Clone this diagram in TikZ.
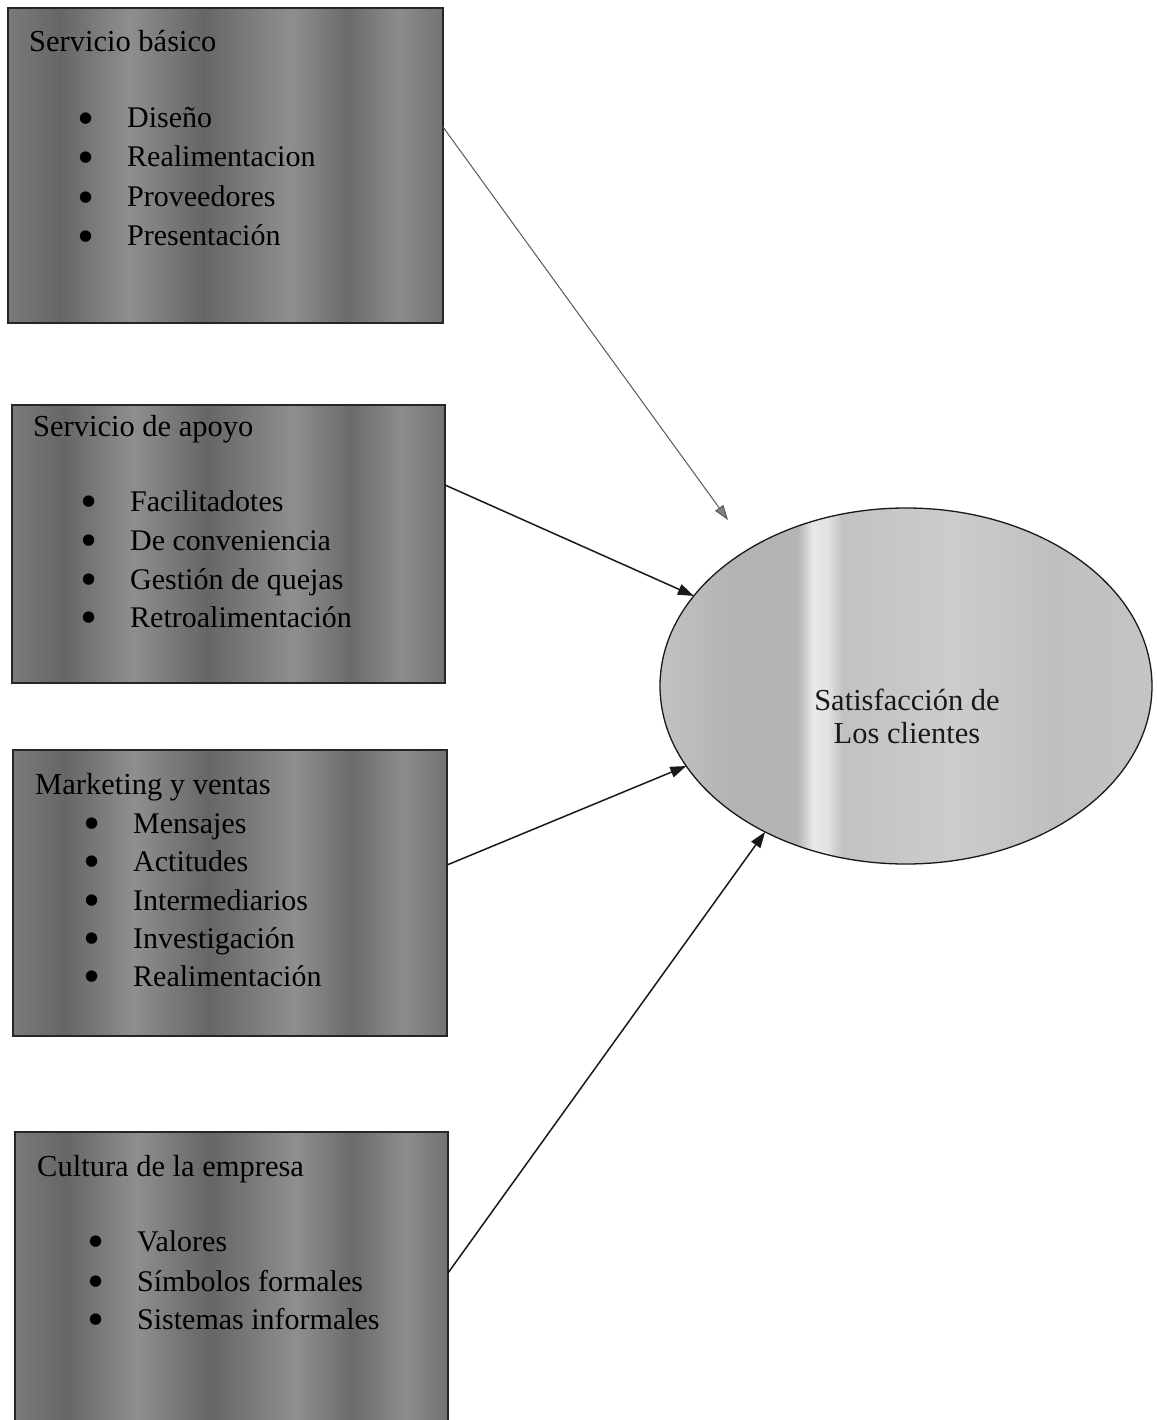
\documentclass[tikz,border=0pt]{standalone}
\usepackage{fontspec}
\setmainfont{Liberation Serif}
\newfontfamily\symfont{DejaVu Sans}
\usetikzlibrary{arrows.meta,shapes.geometric}
\pgfdeclarehorizontalshading{scanbands}{100bp}{color(0bp)=(black!52); color(25bp)=(black!52); color(31bp)=(black!60); color(39bp)=(black!44); color(47.5bp)=(black!60); color(57.5bp)=(black!44); color(64bp)=(black!58); color(70bp)=(black!45); color(75bp)=(black!55); color(100bp)=(black!55)}
\pgfdeclarehorizontalshading{ellbands}{100bp}{color(0bp)=(black!24); color(25bp)=(black!24); color(33bp)=(black!30); color(39bp)=(black!29); color(40.5bp)=(black!9); color(42bp)=(black!11); color(43.5bp)=(black!24); color(55bp)=(black!20); color(65bp)=(black!25); color(75bp)=(black!23); color(100bp)=(black!23)}
\tikzset{
  box/.style={rectangle, draw=black!85, line width=1.3pt, shading=scanbands, inner sep=0pt, outer sep=0pt, anchor=north west},
  ttl/.style={anchor=base west, inner sep=0pt, font=\fontsize{30.5}{34}\selectfont, text=black},
  itm/.style={anchor=base west, inner sep=0pt, font=\fontsize{30}{34}\selectfont, text=black},
  arr/.style={line width=1.5pt, draw=black!90, -{Triangle[length=16pt,width=11pt]}},
  farr/.style={line width=1pt, draw=black!65, -{Triangle[length=15pt,width=10pt,fill=black!50]}}
}
\newcommand{\bul}{\makebox[48pt][l]{\raisebox{5.5pt}{\symfont\fontsize{15}{15}\selectfont ●}}}
\begin{document}
\begin{tikzpicture}[x=1pt,y=-1pt]
\useasboundingbox (0,0) rectangle (1156,1420);
\fill[white] (0,0) rectangle (1156,1420);

% boxes
\node[box, minimum width=435pt, minimum height=315pt] (b1) at (8,8) {};
\node[box, minimum width=433pt, minimum height=278pt] (b2) at (12,405) {};
\node[box, minimum width=434pt, minimum height=286pt] (b3) at (13,750) {};
\node[box, minimum width=433pt, minimum height=300pt] (b4) at (15,1132) {};

% box 1
\node[ttl] (t1) at (29,52) {Servicio básico};
\node[itm] (i11) at (79,128) {\bul Diseño};
\node[itm] (i12) at (79,167) {\bul Realimentacion};
\node[itm] (i13) at (79,207) {\bul Proveedores};
\node[itm] (i14) at (79,246) {\bul Presentación};

% box 2
\node[ttl] (t2) at (33,436) {Servicio de apoyo};
\node[itm] (i21) at (82,511) {\bul Facilitadotes};
\node[itm] (i22) at (82,550) {\bul De conveniencia};
\node[itm] (i23) at (82,589) {\bul Gestión de quejas};
\node[itm] (i24) at (82,627) {\bul Retroalimentación};

% box 3
\node[ttl] (t3) at (35,794) {Marketing y ventas};
\node[itm] (i31) at (85,833) {\bul Mensajes};
\node[itm] (i32) at (85,871) {\bul Actitudes};
\node[itm] (i33) at (85,910) {\bul Intermediarios};
\node[itm] (i34) at (85,948) {\bul Investigación};
\node[itm] (i35) at (85,986) {\bul Realimentación};

% box 4
\node[ttl] (t4) at (37,1176) {Cultura de la empresa};
\node[itm] (i41) at (89,1251) {\bul Valores};
\node[itm] (i42) at (89,1291) {\bul Símbolos formales};
\node[itm] (i43) at (89,1329) {\bul Sistemas informales};

% ellipse
\node[ellipse, draw=black!90, line width=1.3pt, shading=ellbands, minimum width=492pt, minimum height=356pt, inner sep=0pt, outer sep=0pt] (sat) at (906,686) {};
\node[align=center, inner sep=0pt, font=\fontsize{30.5}{33}\selectfont, text=black!90] (satl) at (907,716) {Satisfacción de\\Los clientes};

% connectors
\coordinate (a1) at (443,127);
\coordinate (a2) at (445,485);
\coordinate (a3) at (447,865);
\coordinate (a4) at (448,1273);
\coordinate (e1) at (728,520);
\draw[farr] (a1) -- (e1);
\draw[arr] (a2) -- (sat.157);
\draw[arr] (a3) -- (sat.200);
\draw[arr] (a4) -- (sat.226);
\end{tikzpicture}
\end{document}
